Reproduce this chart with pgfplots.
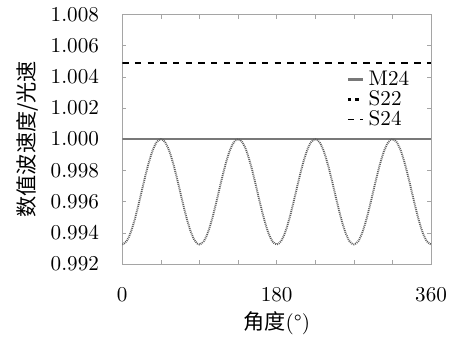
\documentclass[border=0pt]{standalone}
\usepackage{fontspec}
\usepackage{pgfplots}
\pgfplotsset{compat=1.18}
\newfontfamily\cjk{Noto Sans CJK SC}
\definecolor{axgray}{RGB}{165,165,165}
\definecolor{lgray}{RGB}{120,120,120}
\definecolor{dgray}{RGB}{95,95,95}
\begin{document}
\begin{tikzpicture}
\begin{axis}[
  scale only axis,
  width=146pt, height=118pt,
  xmin=0, xmax=360, ymin=0.992, ymax=1.008,
  xtick={0,45,...,360},
  xticklabels={0,,,,180,,,,360},
  ytick={0.992,0.994,0.996,0.998,1.000,1.002,1.004,1.006,1.008},
  yticklabels={0.992,0.994,0.996,0.998,1.000,1.002,1.004,1.006,1.008},
  xticklabel shift=7.5pt,
  yticklabel shift=7.5pt,
  tick align=inside,
  major tick length=2pt,
  axis line style={axgray},
  tick style={axgray},
  xlabel={{\cjk 角度}(°)},
  ylabel={\rule{0pt}{13pt}\cjk 数值波速度/光速},
  xlabel style={yshift=2pt},
  ylabel style={yshift=-1pt},
  legend style={draw=none, fill=none, at={(0.965,0.81)}, anchor=north east, row sep=-3pt, font=\normalsize},
  legend cell align=left,
  legend image code/.code={\draw[#1] (0cm,0cm) -- (0.25cm,0cm);},
]
\addplot[lgray, line width=1pt] coordinates {(0,1.000) (360,1.000)};
\addlegendentry{M24}
\addplot[dgray, line width=0.9pt, dash pattern=on 0.45pt off 0.45pt, smooth, legend image post style={black, line width=1.6pt, dash pattern=on 1.6pt off 2.0pt}] coordinates {
(0,0.99325) (5,0.99345) (10,0.99404) (15,0.99494) (20,0.99604) (25,0.99721) (30,0.99831) (35,0.99921) (40,0.99980) (45,1.00000)
(50,0.99980) (55,0.99921) (60,0.99831) (65,0.99721) (70,0.99604) (75,0.99494) (80,0.99404) (85,0.99345) (90,0.99325)
(95,0.99345) (100,0.99404) (105,0.99494) (110,0.99604) (115,0.99721) (120,0.99831) (125,0.99921) (130,0.99980) (135,1.00000)
(140,0.99980) (145,0.99921) (150,0.99831) (155,0.99721) (160,0.99604) (165,0.99494) (170,0.99404) (175,0.99345) (180,0.99325)
(185,0.99345) (190,0.99404) (195,0.99494) (200,0.99604) (205,0.99721) (210,0.99831) (215,0.99921) (220,0.99980) (225,1.00000)
(230,0.99980) (235,0.99921) (240,0.99831) (245,0.99721) (250,0.99604) (255,0.99494) (260,0.99404) (265,0.99345) (270,0.99325)
(275,0.99345) (280,0.99404) (285,0.99494) (290,0.99604) (295,0.99721) (300,0.99831) (305,0.99921) (310,0.99980) (315,1.00000)
(320,0.99980) (325,0.99921) (330,0.99831) (335,0.99721) (340,0.99604) (345,0.99494) (350,0.99404) (355,0.99345) (360,0.99325)
};
\addlegendentry{S22}
\addplot[black, dashed, line width=0.8pt] coordinates {(0,1.0049) (360,1.0049)};
\addlegendentry{S24}
\end{axis}
\end{tikzpicture}
\end{document}
